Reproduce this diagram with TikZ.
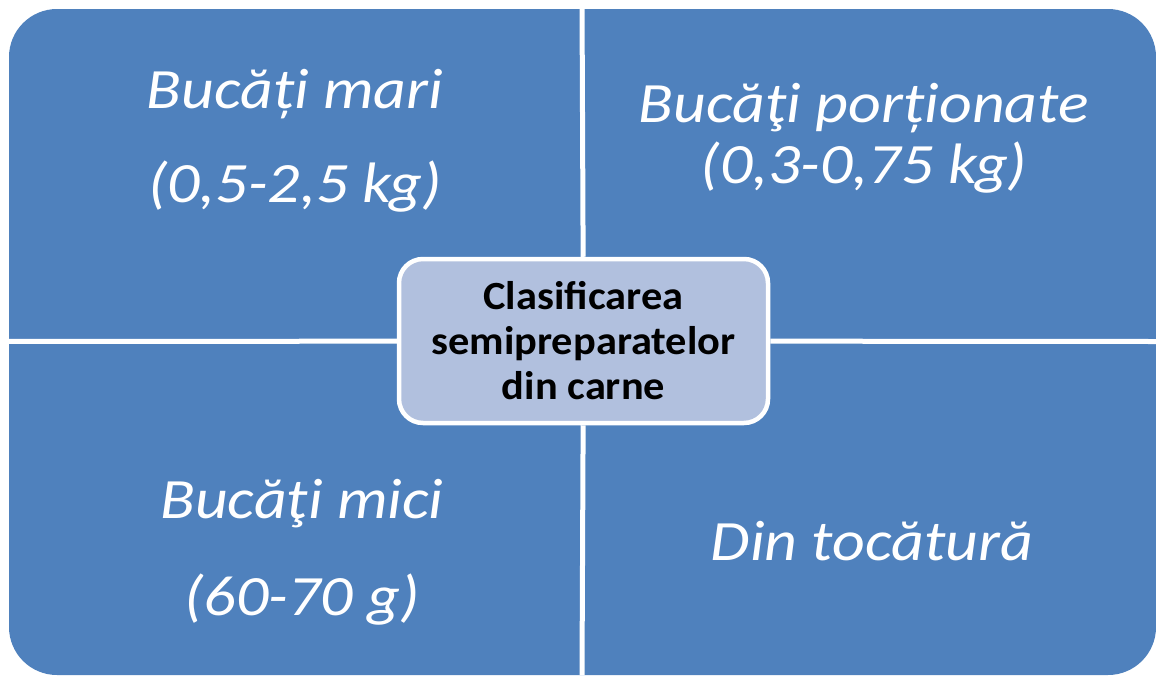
\documentclass[tikz,border=0pt]{standalone}
\usepackage{fontspec}
\setmainfont{Carlito}
\newfontfamily\quadfont[FakeStretch=1.12]{Carlito}
\newfontfamily\hubfont[FakeStretch=1.06]{Carlito}
\usepackage{tikz}
\definecolor{quadblue}{RGB}{79,129,189}
\definecolor{hubfill}{RGB}{177,192,222}
\tikzset{quad/.style={text=white,align=center,inner sep=0pt,anchor=base,font=\quadfont\fontsize{57}{61}\selectfont\itshape}}
\tikzset{hub/.style={draw=white,line width=4.5pt,fill=hubfill,rounded corners=24pt,minimum width=369pt,minimum height=164pt,align=center,font=\hubfont\fontsize{40}{45}\selectfont\bfseries}}
\tikzset{sep/.style={white,line width=5pt}}

\begin{document}
\begin{tikzpicture}[x=1pt,y=-1pt]
      \useasboundingbox (0,0) rectangle (1156,675);
      \fill[quadblue,rounded corners=48pt] (9,9) rectangle (1156,675);
      \coordinate (top) at (582,0);
      \coordinate (bot) at (582,675);
      \coordinate (lft) at (0,341.5);
      \coordinate (rgt) at (1156,341.5);
      \node[hub] (hub) at (583.5,341) {Clasificarea\\semipreparatelor\\din carne};
      \draw[sep] (hub) -- (top) (hub) -- (bot) (hub) -- (lft) (hub) -- (rgt);
      \node[quad] (mari) at (295,202) {Bucăți mari\\[33pt](0,5-2,5 kg)};
      \node[quad] (port) at (864,183) {Bucăţi porționate\\(0,3-0,75 kg)};
      \node[quad] (mici) at (302,615) {Bucăţi mici\\[36pt](60-70 g)};
      \node[quad] (toc) at (872,560) {Din tocătură};
    \end{tikzpicture}
\end{document}
